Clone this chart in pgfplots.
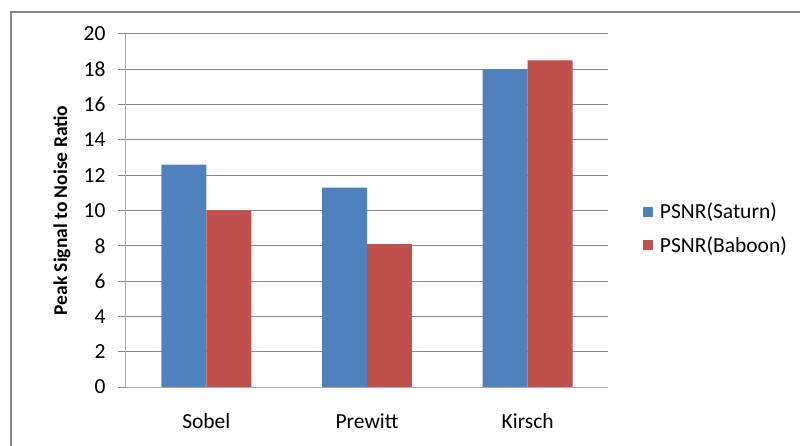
\documentclass[border=0pt]{standalone}
\usepackage{fontspec}
\setmainfont{Carlito}
\usepackage{pgfplots}
\pgfplotsset{compat=1.18}
\definecolor{xlblue}{RGB}{79,129,189}
\definecolor{xlred}{RGB}{192,80,77}
\definecolor{xlgrid}{RGB}{134,134,134}
\definecolor{xlaxis}{RGB}{170,170,170}
\begin{document}
\begin{tikzpicture}
\useasboundingbox (-126bp,-59bp) rectangle (674bp,387bp);
\begin{axis}[
  scale only axis,
  width=482bp, height=353bp,
  at={(0,0)}, anchor=south west,
  font=\fontsize{21.5bp}{25bp}\selectfont,
  /pgf/number format/assume math mode=true,
  ybar,
  bar width=0.28,
  xmin=-0.5, xmax=2.5,
  ymin=0, ymax=20,
  ytick={0,2,...,20},
  xtick={0,1,2},
  xticklabels={Sobel,Prewitt,Kirsch},
  axis lines=left,
  axis line style={-, draw=xlaxis, line width=1bp},
  ymajorgrids,
  major grid style={draw=xlgrid, line width=1bp},
  ytick style={draw=xlgrid, line width=1bp},
  tick align=outside,
  major tick length=8bp,
  xtick style={draw=none},
  xticklabel style={yshift=-15bp},
  yticklabel style={xshift=-9bp},
  ylabel={Peak Signal to Noise Ratio},
  ylabel style={font=\fontsize{19.5bp}{23bp}\selectfont\bfseries, at={(axis description cs:-0.1328,0.5)}, anchor=center, rotate=0},
  legend style={draw=none, fill=none, inner sep=0pt, outer sep=0pt,
    at={(1.0726,0.521)}, anchor=north west, row sep=16bp,
    nodes={inner sep=0pt, anchor=west}},
  legend cell align=left,
  legend image code/.code={\fill[#1,draw=none] (0bp,-5bp) rectangle (10bp,5bp); \path (17bp,0bp);},
]
\addplot[fill=xlblue, draw=none, bar shift=-0.14] coordinates {(0,12.6) (1,11.3) (2,18.0)};
\addplot[fill=xlred, draw=none, bar shift=0.14] coordinates {(0,10.0) (1,8.1) (2,18.5)};
\legend{PSNR(Saturn),PSNR(Baboon)}
\end{axis}
\draw[xlgrid, line width=1.5bp] (-115bp,-70bp) -- (-115bp,375bp) -- (690bp,375bp);
\end{tikzpicture}
\end{document}
